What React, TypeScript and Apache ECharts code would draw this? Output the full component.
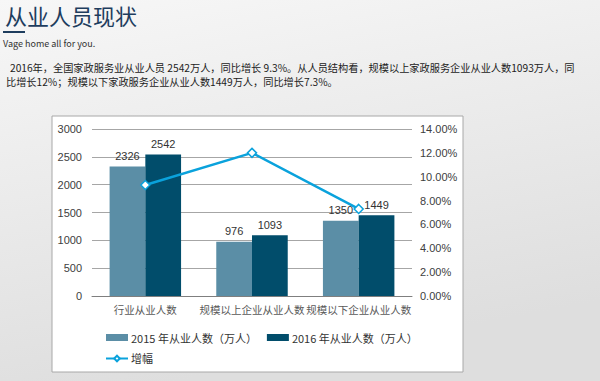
import React, { useEffect, useRef } from "react";
import * as echarts from "echarts";

const categories = ["行业从业人数", "规模以上企业从业人数", "规模以下企业从业人数"];
const values2015 = [2326, 976, 1350];
const values2016 = [2542, 1093, 1449];
const growth = [9.3, 12, 7.3];
const seriesNames = ["2015 年从业人数（万人）", "2016 年从业人数（万人）", "增幅"];

const titleText = "从业人员现状";
const subtitleText = "Vage home all for you.";
const paraLine1 = "2016年，全国家政服务业从业人员 2542万人，同比增长 9.3%。从人员结构看，规模以上家政服务企业从业人数1093万人，同";
const paraLine2 = "比增长12%；规模以下家政服务企业从业人数1449万人，同比增长7.3%。";

const CJK = '"Noto Sans CJK SC", "Liberation Sans", sans-serif';
const NUM = '"Liberation Sans", "Noto Sans CJK SC", sans-serif';

export default function App() {
  const ref = useRef<HTMLDivElement>(null);
  useEffect(() => {
    if (!ref.current) return;
    const chart = echarts.init(ref.current, null, { renderer: "svg" });
    chart.setOption({
      animation: false,
      backgroundColor: {
        type: "linear",
        x: 0, y: 0, x2: 0.3, y2: 1,
        colorStops: [
          { offset: 0, color: "#f7f7f7" },
          { offset: 1, color: "#dedede" },
        ],
      },
      graphic: [
        {
          type: "rect",
          z: -10,
          shape: { x: 52, y: 116, width: 411, height: 256 },
          style: { fill: "#ffffff", stroke: "#a8a8a8", lineWidth: 1 },
        },
        {
          type: "text",
          left: 5, top: 4,
          style: { text: titleText, font: `22px ${CJK}`, fill: "#1e3d5e" },
        },
        {
          type: "rect",
          shape: { x: 3, y: 31, width: 22, height: 2 },
          style: { fill: "#1e3d5e" },
        },
        {
          type: "text",
          left: 3, top: 39,
          style: { text: subtitleText, font: `9px ${CJK}`, fill: "#333333" },
        },
        {
          type: "text",
          left: 10, top: 62,
          style: { text: paraLine1, font: `10.2px ${CJK}`, fill: "#222222" },
        },
        {
          type: "text",
          left: 6, top: 76,
          style: { text: paraLine2, font: `10.2px ${CJK}`, fill: "#222222" },
        },
      ],
      grid: { left: 92, right: 188, top: 129, bottom: 85 },
      legend: {
        left: 100,
        top: 327,
        width: 330,
        itemWidth: 22,
        itemHeight: 7,
        itemGap: 10,
        textStyle: { fontFamily: CJK, fontSize: 11, color: "#333333", padding: [0, 0, 0, -2] },
        data: [
          { name: seriesNames[0], icon: "rect" },
          { name: seriesNames[1], icon: "rect" },
          { name: seriesNames[2] },
        ],
      },
      xAxis: {
        type: "category",
        data: categories,
        axisTick: { show: false },
        axisLine: { lineStyle: { color: "#7f7f7f", width: 1 } },
        axisLabel: { interval: 0, fontFamily: CJK, fontSize: 10.5, color: "#595959", margin: 8 },
      },
      yAxis: [
        {
          type: "value",
          min: 0, max: 3000, interval: 500,
          axisLine: { show: false },
          axisTick: { show: false },
          splitLine: { lineStyle: { color: "#a6a6a6", width: 1 } },
          axisLabel: {
            fontFamily: NUM, fontSize: 11, color: "#404040", margin: 10,
            formatter: (v: number) => String(v),
          },
        },
        {
          type: "value",
          min: 0, max: 14, interval: 2,
          axisLine: { show: false },
          axisTick: { show: false },
          splitLine: { show: false },
          axisLabel: {
            fontFamily: NUM, fontSize: 11, color: "#404040", margin: 8,
            formatter: (v: number) => v.toFixed(2) + "%",
          },
        },
      ],
      series: [
        {
          name: seriesNames[0],
          type: "bar",
          data: values2015,
          barGap: "0%",
          barCategoryGap: "33%",
          itemStyle: { color: "#5b8ea6" },
          label: { show: true, position: "top", distance: 5, fontFamily: NUM, fontSize: 11, color: "#333333" },
        },
        {
          name: seriesNames[1],
          type: "bar",
          data: values2016,
          itemStyle: { color: "#014d6b" },
          label: { show: true, position: "top", distance: 5, fontFamily: NUM, fontSize: 11, color: "#333333" },
        },
        {
          name: seriesNames[2],
          type: "line",
          yAxisIndex: 1,
          data: growth,
          symbol: "diamond",
          symbolSize: 9,
          lineStyle: { color: "#0aa2dc", width: 2.5 },
          itemStyle: { color: "#ffffff", borderColor: "#0aa2dc", borderWidth: 1.5 },
          z: 5,
        },
      ],
    });
    return () => chart.dispose();
  }, []);
  return (
    <div
      ref={ref}
      style={{ position: "fixed", left: 0, top: 0, width: 600, height: 381 }}
    />
  );
}
